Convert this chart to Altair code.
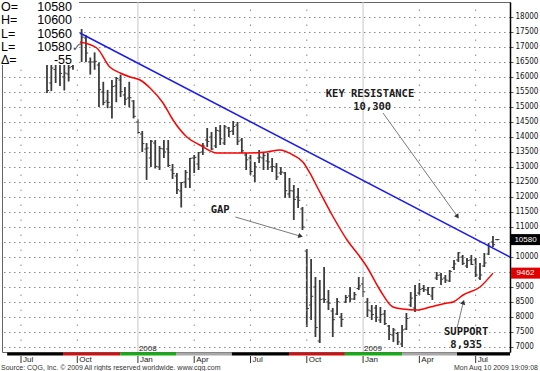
import altair as alt
import pandas as pd

# ---------------- data (weekly bars, week index 0 = mid Aug 2007) ----------------
opens = [16700, 15800, 16250, 16500, 16000, 16100, 16350, 16800, 17100, 17300,
         16500, 16500, 16400, 15500, 15200, 15000, 15700, 15900, 15400, 15300,
         15200, 14500, 14100, 13600, 13300, 13800, 13000, 13600, 13600, 12900,
         12700, 12200, 12500, 12600, 13300, 13100, 13500, 13900, 14000, 13700,
         14200, 13800, 14300, 14200, 14400, 13900, 13400, 13300, 12700, 13300,
         13300, 13200, 13000, 13000, 12800, 12800, 12100, 12200, 12000, 11600,
         10200, 8400, 9000, 7200, 8600, 8500, 8200, 8100, 8000, 8500,
         8700, 8600, 8950, 9100, 8500, 8200, 8300, 7900, 8100, 7700,
         7400, 7450, 7100, 7600, 8400, 8300, 8800, 8950, 8900, 8700,
         9300, 9400, 9300, 9200, 9650, 9900, 10000, 9700, 9900, 9900,
         9300, 9700, 10100, 10500, 10580]
highs = [16900, 16400, 16650, 16700, 16400, 16500, 16850, 17150, 17600, 17400,
         16650, 16820, 16480, 15840, 15570, 15900, 16000, 16080, 15670, 15840,
         15230, 14590, 14200, 13800, 13900, 13900, 13700, 13900, 13900, 13100,
         12800, 12500, 12900, 13300, 13400, 13500, 13800, 14300, 14167, 14333,
         14400, 14400, 14333, 14533, 14500, 13967, 13467, 13400, 13167, 13567,
         13500, 13467, 13300, 13133, 13000, 12833, 12633, 12400, 12300, 11667,
         10267, 9933, 9333, 9233, 9667, 8900, 8300, 8633, 8133, 8733,
         9000, 8833, 9333, 9333, 8633, 8400, 8400, 8333, 8233, 7733,
         7633, 7500, 7733, 8133, 8833, 9067, 9133, 9067, 9000, 9000,
         9500, 9467, 9400, 9567, 9900, 10167, 10067, 9967, 10067, 9967,
         9800, 10133, 10467, 10700, 10600]
lows = [15470, 15530, 15800, 15700, 15550, 15850, 16240, 16700, 16500, 16500,
        16080, 16240, 15000, 15060, 14960, 14620, 15160, 15330, 15060, 14990,
        14620, 14110, 13500, 12570, 13000, 12950, 12900, 13300, 13000, 12600,
        12100, 11650, 12300, 12300, 12800, 12900, 13400, 13667, 13567, 13633,
        13733, 13733, 14000, 14067, 13733, 13467, 12900, 12733, 12500, 13133,
        12900, 12900, 12833, 12567, 12733, 11967, 11967, 11233, 11633, 10900,
        7667, 7900, 7333, 7133, 8467, 8233, 7333, 8067, 7667, 8467,
        8500, 8567, 8900, 8667, 8000, 7900, 7833, 7800, 7733, 7233,
        7167, 7067, 7000, 7567, 8333, 8167, 8733, 8833, 8733, 8567,
        9233, 9067, 9133, 9167, 9567, 9833, 9733, 9633, 9733, 9333,
        9233, 9667, 10067, 10333, 10560]
closes = [15550, 16300, 16570, 16120, 16130, 16310, 16790, 17070, 17330, 16800,
          16500, 16520, 15580, 15150, 15150, 15680, 15950, 15510, 15260, 15310,
          14690, 14150, 13780, 13630, 13860, 13020, 13620, 13500, 13050, 12780,
          12240, 12480, 12820, 13290, 13320, 13480, 13700, 13850, 13600, 14220,
          13940, 14340, 14180, 14350, 13860, 13540, 13240, 12850, 13000, 13330,
          13380, 13170, 13020, 12670, 12830, 12210, 12210, 11920, 11890, 11000,
          8280, 8690, 7650, 8580, 8580, 8460, 7910, 8510, 7920, 8650,
          8600, 8740, 9040, 8840, 8230, 8080, 7990, 8080, 7780, 7420,
          7570, 7170, 7570, 7950, 8630, 8720, 8920, 8910, 8750, 8980,
          9390, 9260, 9230, 9520, 9770, 10140, 9790, 9880, 9750, 9400,
          9400, 9800, 10360, 10410, 10580]

# moving average (red)
ma_weeks = [7.6, 11.5, 14.5, 16.9, 19.2, 21.5, 23.8, 26.8, 29.1, 32.3, 35.3, 39.3,
            43.0, 46.9, 50.8, 53.8, 56.8, 59.1, 60.7, 62.4, 66.1, 69.3, 72.3, 73.9,
            76.9, 79.9, 82.2, 85.5, 88.5, 92.4, 93.8, 96.1, 100.0, 103.0]
ma_values = [17167, 16967, 16333, 16133, 16000, 15900, 15633, 15133, 14567, 14000,
             13733, 13467, 13467, 13467, 13500, 13567, 13400, 13167, 12800, 12333,
             11333, 10567, 10000, 9667, 8900, 8333, 8267, 8233, 8333, 8467, 8500,
             8733, 9000, 9462]

# resistance trend line (blue)
trend_weeks = [7.6, 106.93]
trend_values = [17467, 10000]

# calendar
month_weeks = [-6, 7, 21, 34, 47, 60, 73, 86, 99]
month_labels = ["Jul", "Oct", "Jan", "Apr", "Jul", "Oct", "Jan", "Apr", "Jul"]
year_weeks = [21, 73]
year_labels = ["2008", "2009"]
band_starts = [-9.2, 3.7, 16.9, 29.8, 42.7, 55.9, 68.8, 82.0, 94.7]
band_ends = [3.7, 16.9, 29.8, 42.7, 55.9, 68.8, 82.0, 94.7, 106.93]
band_colors = ["#000000", "#d01010", "#10b010", "#a8a8a8", "#000000", "#d01010",
               "#10b010", "#a8a8a8", "#000000"]

y_ticks = list(range(7000, 18001, 500))

# annotations
note_texts = ["KEY RESISTANCE", "10,300", "GAP", "SUPPORT", "8,935"]
note_weeks = [74.6, 75.1, 40.0, 96.8, 96.8]
note_values = [15420, 15010, 11567, 7490, 7080]
arrow_from_w = [77.6, 43.5, 94.7]
arrow_from_v = [14800, 11333, 7633]
arrow_to_w = [94.7, 58.4, 96.1]
arrow_to_v = [11367, 10700, 8467]
arrow_angle = [145, 106, 18]

tag_values = [10580, 9462]
tag_texts = ["10580", "9462"]
tag_colors = ["#000000", "#e00000"]

info_keys = ["O=", "H=", "L=", "L=", "Δ="]
info_vals = ["10580", "10600", "10560", "10580", "-55"]

# ---------------- chart ----------------
XD = [-10.39, 106.93]
xs = alt.Scale(domain=XD, nice=False, zero=False)
ys = alt.Scale(domain=[6833, 18500], nice=False, zero=False)
W, H = 508, 350

bars = pd.DataFrame({"w": list(range(len(opens))), "open": opens, "high": highs,
                     "low": lows, "close": closes})
bars["wl"] = bars["w"] - 0.5
bars["wr"] = bars["w"] + 0.5

yaxis = alt.Axis(orient="right", values=y_ticks, title=None, grid=True,
                 gridColor="#8a8a8a", gridDash=[1.5, 3.5], gridWidth=1,
                 domainColor="#000000", domainWidth=1.5, tickColor="#555555",
                 tickSize=3, labelFontSize=8, labelColor="#111111", labelPadding=2,
                 labelFont="Liberation Sans Narrow, DejaVu Sans Condensed, Liberation Sans",
                 labelExpr="(datum.value == 9500 || datum.value == 10500) ? '' : datum.label",
                 format="d", labelFlush=False)

months = pd.DataFrame({"w": month_weeks, "lab": month_labels,
                       "jan": [m == "Jan" for m in month_labels]})
vgrid = alt.Chart(months[~months["jan"]]).mark_rule(
    color="#8a8a8a", strokeWidth=1, strokeDash=[1.5, 13.5], strokeDashOffset=7.5
).encode(x=alt.X("w:Q", scale=xs, axis=None), y=alt.value(0), y2=alt.value(H))
vgrid_jan = alt.Chart(months[months["jan"]]).mark_rule(
    color="#c8c8c8", strokeWidth=1
).encode(x=alt.X("w:Q", scale=xs, axis=None), y=alt.value(0), y2=alt.value(H))

hl = alt.Chart(bars).mark_rule(color="#3c3c3c", strokeWidth=1.8).encode(
    x=alt.X("w:Q", scale=xs, axis=None),
    y=alt.Y("low:Q", scale=ys, axis=yaxis), y2="high:Q")
op = alt.Chart(bars).mark_rule(color="#3c3c3c", strokeWidth=1).encode(
    x=alt.X("wl:Q", scale=xs, axis=None), x2="w:Q",
    y=alt.Y("open:Q", scale=ys, axis=None))
cl = alt.Chart(bars).mark_rule(color="#3c3c3c", strokeWidth=1).encode(
    x=alt.X("w:Q", scale=xs, axis=None), x2="wr:Q",
    y=alt.Y("close:Q", scale=ys, axis=None))

ma = alt.Chart(pd.DataFrame({"w": ma_weeks, "v": ma_values})).mark_line(
    color="#ff0000", strokeWidth=1.5, interpolate="monotone").encode(
    x=alt.X("w:Q", scale=xs, axis=None), y=alt.Y("v:Q", scale=ys, axis=None))
trend = alt.Chart(pd.DataFrame({"w": trend_weeks, "v": trend_values})).mark_line(
    color="#1c1cf0", strokeWidth=1.5).encode(
    x=alt.X("w:Q", scale=xs, axis=None), y=alt.Y("v:Q", scale=ys, axis=None))

notes = alt.Chart(pd.DataFrame({"t": note_texts, "w": note_weeks, "v": note_values})).mark_text(
    font="DejaVu Sans Mono", fontSize=10.5, fontWeight="bold", color="#1a1a1a").encode(
    x=alt.X("w:Q", scale=xs, axis=None), y=alt.Y("v:Q", scale=ys, axis=None), text="t:N")

arr = pd.DataFrame({"w1": arrow_from_w, "v1": arrow_from_v, "w2": arrow_to_w,
                    "v2": arrow_to_v, "a": arrow_angle})
arrow_lines = alt.Chart(arr).mark_rule(color="#7a7a7a", strokeWidth=1).encode(
    x=alt.X("w1:Q", scale=xs, axis=None), x2="w2:Q",
    y=alt.Y("v1:Q", scale=ys, axis=None), y2="v2:Q")
arrow_heads = alt.Chart(arr).mark_point(shape="triangle", filled=True, size=28,
                                        color="#333333", opacity=1).encode(
    x=alt.X("w2:Q", scale=xs, axis=None), y=alt.Y("v2:Q", scale=ys, axis=None),
    angle=alt.Angle("a:Q", scale=None))

tags = pd.DataFrame({"v": tag_values, "t": tag_texts, "c": tag_colors})
tag_box = alt.Chart(tags).mark_tick(orient="horizontal", thickness=11, size=29, opacity=1).encode(
    x=alt.value(W + 15.5), y=alt.Y("v:Q", scale=ys, axis=None),
    color=alt.Color("c:N", scale=None))
tag_txt = alt.Chart(tags).mark_text(color="white", fontSize=8, align="center",
                                    font="Liberation Sans").encode(
    x=alt.value(W + 15.5), y=alt.Y("v:Q", scale=ys, axis=None), text="t:N")

bands = pd.DataFrame({"s": band_starts, "e": band_ends, "c": band_colors})
band = alt.Chart(bands).mark_rect().encode(
    x=alt.X("s:Q", scale=xs, axis=None), x2="e:Q",
    y=alt.value(H + 0.5), y2=alt.value(H + 3.5), color=alt.Color("c:N", scale=None))
mticks = alt.Chart(months).mark_rule(color="#333333", strokeWidth=1).encode(
    x=alt.X("w:Q", scale=xs, axis=None), y=alt.value(H + 4), y2=alt.value(H + 11))
mlabels = alt.Chart(months).mark_text(align="left", dx=2, fontSize=8, color="#222222",
                                      font="Liberation Sans").encode(
    x=alt.X("w:Q", scale=xs, axis=None), y=alt.value(H + 8), text="lab:N")
years = alt.Chart(pd.DataFrame({"w": year_weeks, "t": year_labels})).mark_text(
    align="left", dx=1, fontSize=8, color="#222222", font="Liberation Sans").encode(
    x=alt.X("w:Q", scale=xs, axis=None), y=alt.value(H - 3), text="t:N")

foot = pd.DataFrame({"t": ["Source: CQG, Inc. © 2009 All rights reserved worldwide. www.cqg.com",
                           "Mon Aug 10 2009 19:09:08"]})
foot_l = alt.Chart(foot.iloc[[0]]).mark_text(align="left", fontSize=7, color="#333333",
                                             font="Liberation Sans").encode(
    x=alt.value(-1), y=alt.value(H + 16), text="t:N")
foot_r = alt.Chart(foot.iloc[[1]]).mark_text(align="right", fontSize=7, color="#333333",
                                             font="Liberation Sans").encode(
    x=alt.value(W + 28), y=alt.value(H + 16), text="t:N")

info = pd.DataFrame({"k": info_keys, "val": info_vals, "r": list(range(5))})
row_scale = alt.Scale(type="point", range=[9, 62], padding=0)
info_box = alt.Chart(pd.DataFrame({"a": [0]})).mark_rect(color="white").encode(
    x=alt.value(-2), x2=alt.value(77), y=alt.value(-2), y2=alt.value(63))
info_k = alt.Chart(info).mark_text(align="left", baseline="alphabetic", fontSize=12.5,
                                   font="Liberation Sans", color="#000").encode(
    x=alt.value(-1), y=alt.Y("r:O", axis=None, scale=row_scale), text="k:N")
info_v = alt.Chart(info).mark_text(align="right", baseline="alphabetic", fontSize=12.5,
                                   font="Liberation Sans", color="#000").encode(
    x=alt.value(70), y=alt.Y("r:O", axis=None, scale=row_scale), text="val:N")
check = alt.Chart(pd.DataFrame({"t": ["✓"]})).mark_text(
    align="left", baseline="alphabetic", fontSize=11, font="DejaVu Sans", color="#444").encode(
    x=alt.value(70), y=alt.value(48.75), text="t:N")

chart = alt.layer(
    hl, vgrid, vgrid_jan, op, cl, trend, ma, arrow_lines, arrow_heads, notes,
    tag_box, tag_txt, band, mticks, mlabels, years, foot_l, foot_r,
    info_box, info_k, info_v, check
).resolve_scale(y="independent").properties(
    width=W, height=H, autosize="none",
    padding={"left": 2, "top": 2, "right": 30, "bottom": 19},
    background="white"
).configure_view(stroke="#666666", strokeWidth=1)

chart.save("out.html", embed_options={"renderer": "svg", "actions": False})
